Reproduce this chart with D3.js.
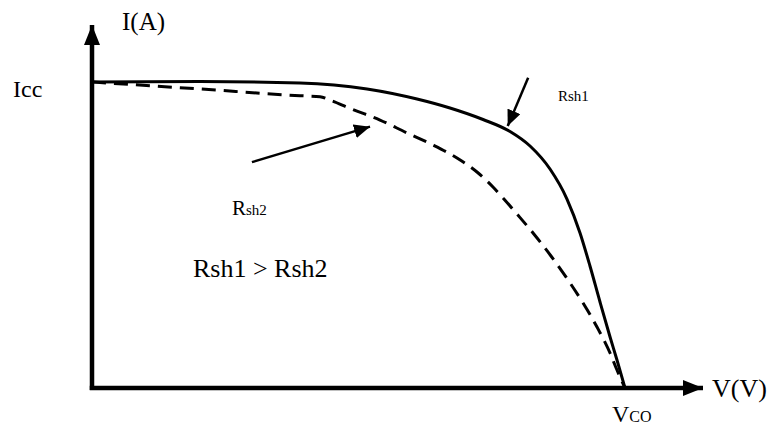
<!DOCTYPE html>
<html>
<head>
<meta charset="utf-8">
<script src="https://cdn.jsdelivr.net/npm/d3@7"></script>
<style>
  body { margin: 0; background: #fff; }
  svg text { font-family: "Liberation Serif", "Times New Roman", serif; fill: #000; }
</style>
</head>
<body>
<script>
// I-V curves of a PV cell for two shunt resistances
var w = 779;
var h = 427;

// curve with high shunt resistance (Rsh1)
var rsh1V = [0, 0.1216, 0.2342, 0.3096, 0.3659, 0.4030, 0.4402, 0.4706, 0.4931, 0.5156, 0.5347, 0.5494, 0.5606, 0.5719, 0.5832, 0.5910, 0.6000];
var rsh1I = [5.000, 5.008, 4.984, 4.886, 4.722, 4.575, 4.387, 4.191, 3.954, 3.578, 3.088, 2.533, 1.993, 1.405, 0.833, 0.458, 0];

// curve with low shunt resistance (Rsh2)
var rsh2V = [0, 0.1216, 0.2342, 0.2567, 0.2679, 0.2904, 0.3242, 0.3546, 0.3839, 0.4109, 0.4334, 0.4514, 0.4627, 0.4784, 0.4965, 0.5167, 0.5359, 0.5528, 0.5685, 0.5832, 0.5910, 0.6000];
var rsh2I = [5.000, 4.886, 4.776, 4.760, 4.706, 4.570, 4.379, 4.167, 3.971, 3.758, 3.529, 3.284, 3.105, 2.843, 2.533, 2.157, 1.765, 1.389, 0.997, 0.572, 0.294, 0];

// annotation arrows [from, to] in V / I
var arrow1 = [[0.491, 5.07], [0.468, 4.28]];
var arrow2 = [[0.180, 3.69], [0.313, 4.27]];

var xScale = d3.scaleLinear().domain([0, 0.7]).range([92, 92 + 0.7 * 888.3]);
var yScale = d3.scaleLinear().domain([0, 6]).range([388, 388 - 6 * 61.2]);

var svg = d3.select("body")
  .append("svg")
  .attr("width", w)
  .attr("height", h);

var defs = svg.append("defs");
defs.append("marker")
  .attr("id", "bighead")
  .attr("viewBox", "0 0 20 16")
  .attr("refX", 20)
  .attr("refY", 8)
  .attr("markerWidth", 20)
  .attr("markerHeight", 16)
  .attr("markerUnits", "userSpaceOnUse")
  .attr("orient", "auto")
  .append("path")
  .attr("d", "M0,0 L20,8 L0,16 Z")
  .attr("fill", "#000");

defs.append("marker")
  .attr("id", "smallhead")
  .attr("viewBox", "0 0 16 14")
  .attr("refX", 16)
  .attr("refY", 7)
  .attr("markerWidth", 16)
  .attr("markerHeight", 14)
  .attr("markerUnits", "userSpaceOnUse")
  .attr("orient", "auto")
  .append("path")
  .attr("d", "M0,0 L16,7 L0,14 Z")
  .attr("fill", "#000");

// axes
svg.append("line")
  .attr("x1", xScale(0)).attr("y1", yScale(0) + 2)
  .attr("x2", xScale(0)).attr("y2", 25)
  .attr("stroke", "#000").attr("stroke-width", 4.5)
  .attr("marker-end", "url(#bighead)");

svg.append("line")
  .attr("x1", xScale(0) - 2.25).attr("y1", yScale(0))
  .attr("x2", 703).attr("y2", yScale(0))
  .attr("stroke", "#000").attr("stroke-width", 4.5)
  .attr("marker-end", "url(#bighead)");

// curves
var line = d3.line()
  .x(function(d) { return xScale(d[0]); })
  .y(function(d) { return yScale(d[1]); })
  .curve(d3.curveMonotoneX);

svg.append("path")
  .datum(d3.zip(rsh2V, rsh2I))
  .attr("d", line)
  .attr("fill", "none")
  .attr("stroke", "#000")
  .attr("stroke-width", 3)
  .attr("stroke-dasharray", "14,8");

svg.append("path")
  .datum(d3.zip(rsh1V, rsh1I))
  .attr("d", line)
  .attr("fill", "none")
  .attr("stroke", "#000")
  .attr("stroke-width", 3);

// annotation arrows
[arrow1, arrow2].forEach(function(a) {
  svg.append("line")
    .attr("x1", xScale(a[0][0])).attr("y1", yScale(a[0][1]))
    .attr("x2", xScale(a[1][0])).attr("y2", yScale(a[1][1]))
    .attr("stroke", "#000").attr("stroke-width", 2.5)
    .attr("marker-end", "url(#smallhead)");
});

// labels
svg.append("text").attr("x", 122).attr("y", 30).attr("font-size", "25px").text("I(A)");
svg.append("text").attr("x", 13).attr("y", 97).attr("font-size", "24px").text("Icc");

svg.append("text").attr("x", 712).attr("y", 397).attr("font-size", "26px").text("V(V)");

var vco = svg.append("text").attr("x", 612).attr("y", 422);
vco.append("tspan").attr("font-size", "24px").text("V");
vco.append("tspan").attr("font-size", "16px").text("CO");

var r2 = svg.append("text").attr("x", 232).attr("y", 215);
r2.append("tspan").attr("font-size", "21px").text("R");
r2.append("tspan").attr("font-size", "15px").text("sh2");

svg.append("text").attr("x", 558).attr("y", 101).attr("font-size", "15px").text("Rsh1");

svg.append("text").attr("x", 193).attr("y", 277).attr("font-size", "26px").text("Rsh1 > Rsh2");
</script>
</body>
</html>
